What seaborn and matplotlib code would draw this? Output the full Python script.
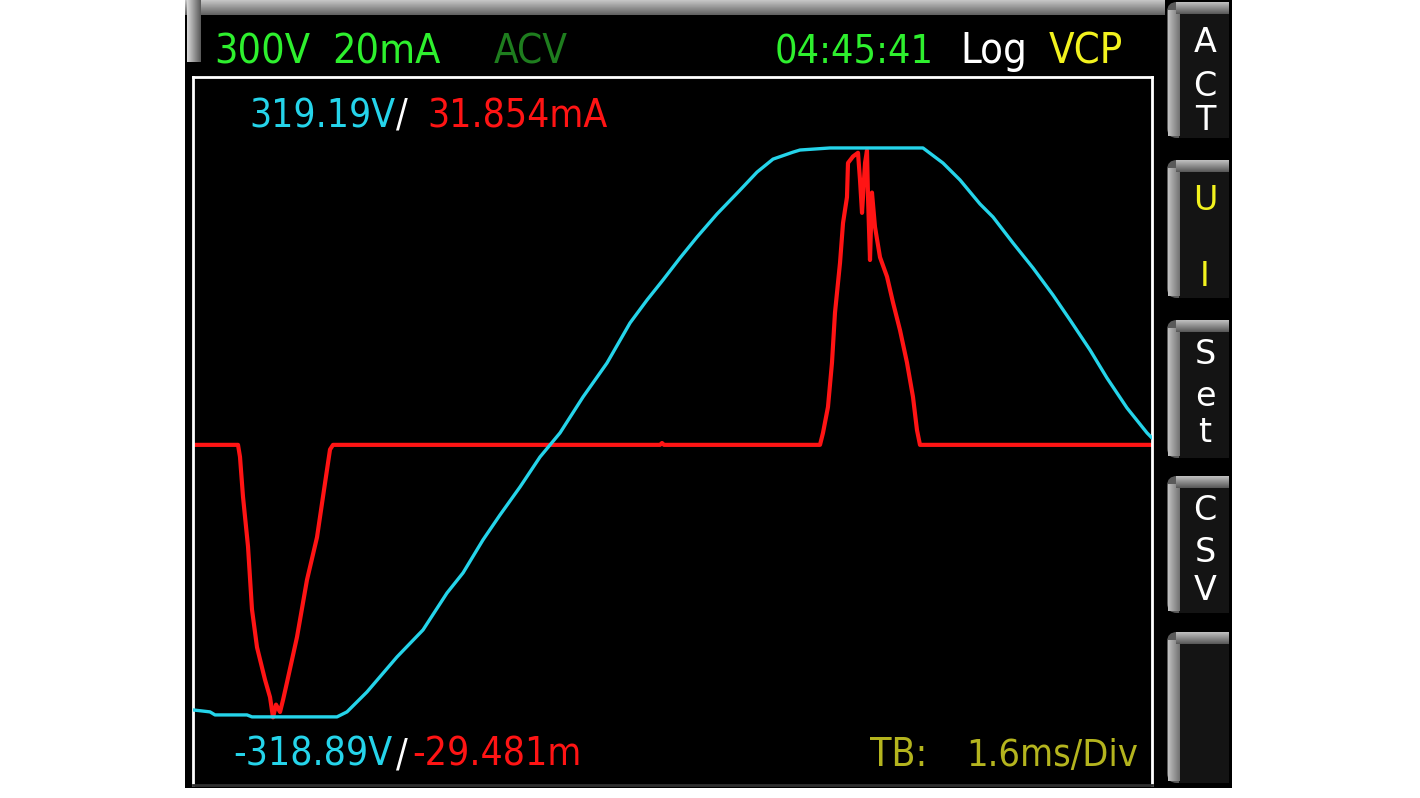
import numpy as np
import pandas as pd
import matplotlib
matplotlib.use("Agg")
import matplotlib.pyplot as plt
import seaborn as sns
from matplotlib.patches import Rectangle, FancyBboxPatch

# ---------------- data ----------------
# Voltage trace: time in ms (1.6 ms/div, 10 div), voltage in V
volt_time_ms = [0.000, 0.284, 0.367, 0.901, 0.984, 2.402, 2.569, 2.903,
                3.404, 3.837, 4.238, 4.505, 4.838, 5.122, 5.456, 5.789, 6.123,
                6.507, 6.907, 7.291, 7.575, 7.841, 8.125, 8.409, 8.742, 9.126,
                9.410, 9.677, 10.010, 10.127, 10.628, 12.179, 12.513,
                12.797, 13.130, 13.347, 13.681, 14.015, 14.348, 14.632, 14.966,
                15.249, 15.583, 15.917, 16.000]
volt_values_v = [-311.1, -313.3, -316.7, -316.7, -318.9, -318.9, -313.3,
                 -290.9, -251.6, -221.4, -179.9, -157.4, -120.4, -92.4, -61.0,
                 -27.4, -0.4, 39.9, 78.0, 122.9, 148.7, 171.1, 195.8, 219.3,
                 245.1, 271.9, 292.1, 306.7, 314.5, 316.9, 319.2, 319.2,
                 302.3, 283.3, 256.4, 241.8, 212.6, 184.6, 154.3, 126.3, 92.6,
                 61.2, 27.6, -0.4, -6.1]

# Current trace: time in ms, current in mA
curr_time_ms = [0.000, 0.751, 0.784, 0.834, 0.918, 0.984, 1.068, 1.201, 1.285,
                1.335, 1.385, 1.452, 1.502, 1.568, 1.735, 1.902, 2.069, 2.169,
                2.286, 2.336, 7.791, 7.825, 7.858, 10.461, 10.511, 10.594,
                10.661, 10.711, 10.795, 10.845, 10.911, 10.928, 11.011, 11.095,
                11.128, 11.162, 11.212, 11.245, 11.262, 11.295, 11.328, 11.378,
                11.462, 11.579, 11.679, 11.796, 11.912, 12.012, 12.079, 12.129,
                16.000]
curr_values_ma = [0.0, 0.0, -1.3, -5.6, -11.0, -17.8, -21.9, -25.4, -27.3,
                  -29.481, -28.1, -28.9, -27.6, -25.7, -20.8, -14.6, -10.0, -5.6,
                  -0.5, 0.0, 0.0, 0.2, 0.0, 0.0, 1.3, 4.1, 8.9, 14.3, 19.7, 24.0,
                  26.8, 30.5, 31.2, 31.6, 28.7, 25.1, 30.5, 31.854, 26.8, 20.0,
                  27.3, 23.6, 20.3, 18.2, 15.4, 12.4, 8.9, 5.2, 1.6, 0.0, 0.0]

header_green = ["300V", "20mA"]
header_mode = "ACV"
header_time = "04:45:41"
header_log = "Log"
header_vcp = "VCP"
max_labels = ["319.19V", "/", "31.854mA"]
min_labels = ["-318.89V", "/", "-29.481m"]
timebase_label = ["TB:", "1.6ms/Div"]
button_labels = [["A", "C", "T"], ["U", "", "I"], ["S", "e", "t"], ["C", "S", "V"], []]

# ---------------- styling ----------------
W, H = 1420, 798
sns.set_style("dark")
plt.rcParams["font.family"] = ["DejaVu Sans"]

GREEN = "#2ef02e"
DKGREEN = "#1e7d1e"
CYAN = "#25d4ea"
RED = "#ff1414"
YELLOW = "#f2f21e"
OLIVE = "#b4b41e"

fig = plt.figure(figsize=(W / 100, H / 100), dpi=100, facecolor="white")

# background (pixel coordinates)
bg = fig.add_axes([0, 0, 1, 1], zorder=-5)
bg.axis("off")
bg.add_patch(Rectangle((185, 0), 1232 - 185, 788, color="black", lw=0))
grad = np.linspace(0.78, 0.38, 40).reshape(-1, 1)
bg.imshow(grad, extent=(185, 1165, 15, 0), cmap="gray", vmin=0, vmax=1,
          aspect="auto", zorder=1)
lgrad = np.linspace(0.85, 0.35, 30).reshape(1, -1)
bg.imshow(lgrad, extent=(187, 201, 62, 0), cmap="gray", vmin=0, vmax=1,
          aspect="auto", zorder=1)
btn_ranges = [(0, 140), (158, 300), (318, 460), (474, 615), (630, 785)]
for (y0, y1) in btn_ranges:
    bg.add_patch(FancyBboxPatch((1167, y0 + 2), 62, y1 - y0 - 4,
                                boxstyle="round,pad=0,rounding_size=10",
                                fc="#5a5a5a", ec="none", zorder=2))
    bg.add_patch(Rectangle((1179, y0 + 14), 50, y1 - y0 - 16,
                           fc="#141414", ec="none", zorder=3))
    sg = np.linspace(0.75, 0.45, 30).reshape(1, -1)
    bg.imshow(sg, extent=(1168, 1180, y1 - 4, y0 + 10), cmap="gray",
              vmin=0, vmax=1, aspect="auto", zorder=3)
    tg = np.linspace(0.75, 0.35, 20).reshape(-1, 1)
    bg.imshow(tg, extent=(1176, 1229, y0 + 14, y0 + 2), cmap="gray",
              vmin=0, vmax=1, aspect="auto", zorder=3)
bg.set_xlim(0, W)
bg.set_ylim(H, 0)

# ---------------- plot area ----------------
left, right, top, bottom = 193, 1152, 77, 785
ax = fig.add_axes([left / W, 1 - bottom / H, (right - left) / W, (bottom - top) / H])
ax.set_facecolor("black")
curr_df = pd.DataFrame({"t": curr_time_ms, "i": curr_values_ma})
volt_df = pd.DataFrame({"t": volt_time_ms, "v": volt_values_v})

sns.lineplot(data=curr_df, x="t", y="i", ax=ax, color=RED, lw=3.0,
             sort=False, estimator=None)
ax.set_xlim(0, 16)
ax.set_ylim(-36.8, 39.8)

ax2 = ax.twinx()
sns.lineplot(data=volt_df, x="t", y="v", ax=ax2, color=CYAN, lw=2.4,
             sort=False, estimator=None)
ax2.set_ylim(-395.3, 398.8)
ax2.set_xlim(0, 16)

for a in (ax, ax2):
    a.set_xticks([])
    a.set_yticks([])
    a.set_xlabel("")
    a.set_ylabel("")
    a.grid(False)
for s in ax.spines.values():
    s.set_color("white")
    s.set_linewidth(2)
ax.spines["bottom"].set_color("#303030")
for s in ax2.spines.values():
    s.set_visible(False)

# ---------------- overlay texts ----------------
ov = fig.add_axes([0, 0, 1, 1], zorder=10)
ov.set_xlim(0, W)
ov.set_ylim(H, 0)
ov.axis("off")
ov.patch.set_alpha(0)

renderer = fig.canvas.get_renderer()


def fit_text(x0, x1, ybase, s, color, maxsize):
    t = ov.text(x0, ybase, s, color=color, fontsize=maxsize,
                fontstretch="condensed", va="baseline", ha="left")
    w = t.get_window_extent(renderer).width
    if w > (x1 - x0):
        t.set_fontsize(maxsize * (x1 - x0) / w)
    return t


hb = 63
fit_text(214, 310, hb, header_green[0], GREEN, 30)
fit_text(332, 440, hb, header_green[1], GREEN, 30)
fit_text(494, 568, hb, header_mode, DKGREEN, 30)
fit_text(775, 934, hb, header_time, GREEN, 30)
fit_text(960, 1027, hb, header_log, "white", 30)
fit_text(1049, 1126, hb, header_vcp, YELLOW, 30)

mb = 127
fit_text(249, 395, mb, max_labels[0], CYAN, 28)
fit_text(396, 412, mb, max_labels[1], "white", 28)
fit_text(427, 609, mb, max_labels[2], RED, 28)

nb = 766
fit_text(233, 395, nb, min_labels[0], CYAN, 28)
fit_text(396, 411, nb, min_labels[1], "white", 28)
fit_text(412, 587, nb, min_labels[2], RED, 28)

fit_text(870, 931, nb, timebase_label[0], OLIVE, 28)
fit_text(966, 1138, nb, timebase_label[1], OLIVE, 28)

letter_y = [[42, 86, 120], [200, 238, 276], [355, 396, 432], [510, 552, 590], []]
for labels, ys in zip(button_labels, letter_y):
    for lab, yy in zip(labels, ys):
        if not lab:
            continue
        col = YELLOW if labels[0] == "U" else "white"
        ov.text(1205, yy, lab, color=col, fontsize=24, va="center", ha="center")

fig.savefig("out.png", dpi=100, facecolor="white")
